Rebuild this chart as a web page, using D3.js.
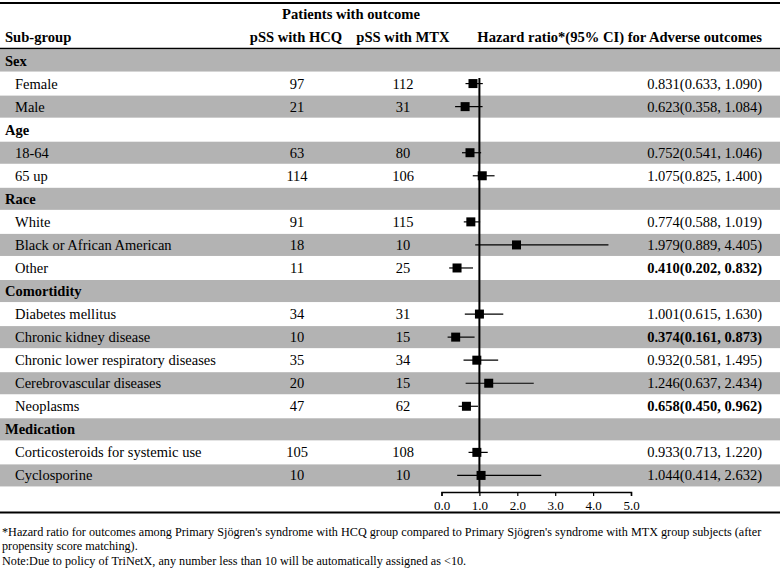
<!DOCTYPE html>
<html>
<head>
<meta charset="utf-8">
<script src="https://cdn.jsdelivr.net/npm/d3@7"></script>
<style>
  body { margin: 0; background: #fff; }
  svg text { font-family: "Liberation Serif", "Times New Roman", serif; }
</style>
</head>
<body>
<svg id="chart" width="780" height="569"></svg>
<script>
// row labels, group header rows have no numbers
const labels = ["Sex", "Female", "Male", "Age", "18-64", "65 up", "Race", "White",
  "Black or African American", "Other", "Comortidity", "Diabetes mellitus",
  "Chronic kidney disease", "Chronic lower respiratory diseases",
  "Cerebrovascular diseases", "Neoplasms", "Medication",
  "Corticosteroids for systemic use", "Cyclosporine"];
const isGroup = [1,0,0,1,0,0,1,0,0,0,1,0,0,0,0,0,1,0,0];
const hcq = [null,97,21,null,63,114,null,91,18,11,null,34,10,35,20,47,null,105,10];
const mtx = [null,112,31,null,80,106,null,115,10,25,null,31,15,34,15,62,null,108,10];
const hr  = [null,0.831,0.623,null,0.752,1.075,null,0.774,1.979,0.410,null,1.001,0.374,0.932,1.246,0.658,null,0.933,1.044];
const lo  = [null,0.633,0.358,null,0.541,0.825,null,0.588,0.889,0.202,null,0.615,0.161,0.581,0.637,0.450,null,0.713,0.414];
const hi  = [null,1.090,1.084,null,1.046,1.400,null,1.019,4.405,0.832,null,1.630,0.873,1.495,2.434,0.962,null,1.220,2.632];
const ticks = [0, 1, 2, 3, 4, 5];

const svg = d3.select("#chart");
const rowTop = 49, rowH = 23.05;
const rows = labels.map((d, i) => ({label: d, group: isGroup[i], hcq: hcq[i], mtx: mtx[i], hr: hr[i], lo: lo[i], hi: hi[i], i: i}));

const y = i => rowTop + i * rowH;
const x = d3.scaleLinear().domain([0, 5]).range([441.5, 631]);

// alternating row backgrounds
svg.append("g").selectAll("rect")
    .data(rows.filter(d => d.i % 2 === 0))
    .join("rect")
    .attr("x", 0).attr("width", 780)
    .attr("y", d => y(d.i) + 0.5).attr("height", rowH - 1)
    .attr("fill", "#b3b3b3");

// top rule, header rule, bottom rule
svg.append("line").attr("x1", 0).attr("x2", 780).attr("y1", 3).attr("y2", 3)
    .attr("stroke", "#000").attr("stroke-width", 2);
svg.append("line").attr("x1", 0).attr("x2", 780).attr("y1", 48.5).attr("y2", 48.5)
    .attr("stroke", "#000").attr("stroke-width", 1.5);
svg.append("line").attr("x1", 0).attr("x2", 780).attr("y1", 512.5).attr("y2", 512.5)
    .attr("stroke", "#000").attr("stroke-width", 2);

// header texts
const head = svg.append("g").attr("font-weight", "bold").style("font-size", "14.6px");
head.append("text").attr("x", 351).attr("y", 19).attr("text-anchor", "middle").text("Patients with outcome");
head.append("text").attr("x", 5).attr("y", 42).text("Sub-group");
head.append("text").attr("x", 296).attr("y", 42).attr("text-anchor", "middle").text("pSS with HCQ");
head.append("text").attr("x", 403).attr("y", 42).attr("text-anchor", "middle").text("pSS with MTX");
head.append("text").attr("x", 762).attr("y", 42).attr("text-anchor", "end").text("Hazard ratio*(95% CI) for Adverse outcomes");

// table cells
const cells = svg.append("g").style("font-size", "14.5px");
const ty = d => y(d.i) + rowH / 2 + 5;
cells.selectAll("text.lab")
    .data(rows)
    .join("text")
    .attr("class", "lab")
    .attr("x", d => d.group ? 5 : 15)
    .attr("y", ty)
    .attr("font-weight", d => d.group ? "bold" : "normal")
    .text(d => d.label);

const data = rows.filter(d => !d.group);
cells.selectAll("text.hcq")
    .data(data).join("text").attr("class", "hcq")
    .attr("x", 297).attr("y", ty).attr("text-anchor", "middle")
    .text(d => d.hcq);
cells.selectAll("text.mtx")
    .data(data).join("text").attr("class", "mtx")
    .attr("x", 403).attr("y", ty).attr("text-anchor", "middle")
    .text(d => d.mtx);
cells.selectAll("text.hr")
    .data(data).join("text").attr("class", "hr")
    .attr("x", 762).attr("y", ty).attr("text-anchor", "end")
    .attr("font-weight", d => d.hi < 1 ? "bold" : "normal")
    .text(d => `${d.hr.toFixed(3)}(${d.lo.toFixed(3)}, ${d.hi.toFixed(3)})`);

// reference line at HR = 1
svg.append("line")
    .attr("x1", x(1)).attr("x2", x(1))
    .attr("y1", y(1) + 6).attr("y2", 492)
    .attr("stroke", "#000").attr("stroke-width", 2);

// CI whiskers and squares
const cy = d => y(d.i) + rowH / 2;
svg.append("g").selectAll("line")
    .data(data).join("line")
    .attr("x1", d => x(d.lo)).attr("x2", d => x(d.hi))
    .attr("y1", cy).attr("y2", cy)
    .attr("stroke", "#000").attr("stroke-width", 1.2);
svg.append("g").selectAll("rect")
    .data(data).join("rect")
    .attr("x", d => x(d.hr) - 4.5).attr("y", d => cy(d) - 4.5)
    .attr("width", 9).attr("height", 9)
    .attr("fill", "#000");

// x axis
const axis = svg.append("g").attr("transform", "translate(0,492)")
    .call(d3.axisBottom(x).tickValues(ticks).tickFormat(d3.format(".1f"))
        .tickSizeOuter(0).tickSize(4).tickPadding(5));
axis.attr("font-size", 13).attr("font-family", "'Liberation Serif', serif");
axis.select(".domain").attr("stroke-width", 1.5);
axis.selectAll(".tick line").attr("stroke-width", 1.2);
axis.selectAll(".tick text").attr("fill", "#000");

// footnotes
const foot = svg.append("g").style("font-size", "12.2px");
foot.append("text").attr("x", 2).attr("y", 536)
    .text("*Hazard ratio for outcomes among Primary Sjögren's syndrome with HCQ group compared to Primary Sjögren's syndrome with MTX group subjects (after");
foot.append("text").attr("x", 2).attr("y", 550).text("propensity score matching).");
foot.append("text").attr("x", 2).attr("y", 565)
    .text("Note:Due to policy of TriNetX, any number less than 10 will be automatically assigned as <10.");
</script>
</body>
</html>
